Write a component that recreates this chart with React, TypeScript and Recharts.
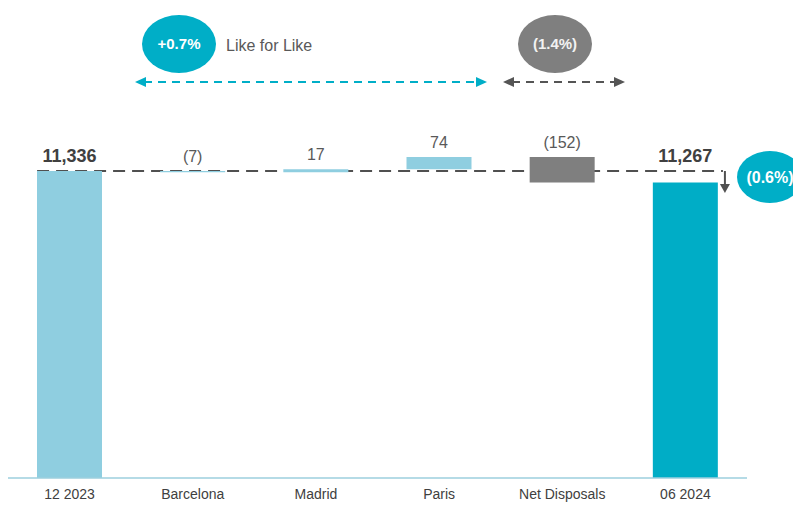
import React from 'react';
import { BarChart, Bar, XAxis, YAxis, Cell, LabelList, Customized } from 'recharts';

// waterfall inputs
const categories = ['12 2023', 'Barcelona', 'Madrid', 'Paris', 'Net Disposals', '06 2024'];
const openingValue = 11336;
const movements = [-7, 17, 74, -152];
const closingValue = 11267;
const valueLabels = ['11,336', '(7)', '17', '74', '(152)', '11,267'];
const barColors = ['#8FCEE0', '#8FCEE0', '#8FCEE0', '#8FCEE0', '#7F7F7F', '#00ADC6'];
const yDomain = [9500, 12000];

const CHART_W = 793;
const CHART_H = 497;
const MARGIN = { top: 52, right: 54, bottom: 7, left: 0 };
const PLOT_W = CHART_W - MARGIN.left - MARGIN.right;
const PLOT_H = CHART_H - MARGIN.top - MARGIN.bottom - 20;
const BAR_SIZE = 65;
const FONT = "'Liberation Sans', Arial, sans-serif";

// build floating ranges for the bars
const buildRows = () => {
  const rows = [{ name: categories[0], range: [yDomain[0], openingValue], label: valueLabels[0] }];
  let running = openingValue;
  movements.forEach((m, i) => {
    const next = running + m;
    rows.push({ name: categories[i + 1], range: [Math.min(running, next), Math.max(running, next)], label: valueLabels[i + 1] });
    running = next;
  });
  rows.push({ name: categories[5], range: [yDomain[0], closingValue], label: valueLabels[5] });
  return rows;
};
const rows = buildRows();

// same linear mapping the chart uses, for the overlay drawings
const yPix = (v: number) => MARGIN.top + ((yDomain[1] - v) / (yDomain[1] - yDomain[0])) * PLOT_H;
const band = PLOT_W / categories.length;
const xCenter = (i: number) => MARGIN.left + band * (i + 0.5);
const lineY = yPix(openingValue);

const ValueLabel = (props: any) => {
  const { x, y, width, height, index } = props;
  const top = Math.min(y, y + height);
  const bold = index === 0 || index === categories.length - 1;
  return (
    <text
      x={x + width / 2}
      y={Math.min(top, lineY) - 9}
      textAnchor="middle"
      fontFamily={FONT}
      fontSize={bold ? 18 : 16}
      fontWeight={bold ? 700 : 400}
      fill={bold ? '#404040' : '#595959'}
    >
      {rows[index].label}
    </text>
  );
};

const DashArrow = ({ x1, x2, y, color }: { x1: number; x2: number; y: number; color: string }) => (
  <g>
    <line x1={x1 + 9} x2={x2 - 9} y1={y} y2={y} stroke={color} strokeWidth={2} strokeDasharray="8 6" />
    <polygon points={`${x1},${y} ${x1 + 11},${y - 5} ${x1 + 11},${y + 5}`} fill={color} />
    <polygon points={`${x2},${y} ${x2 - 11},${y - 5} ${x2 - 11},${y + 5}`} fill={color} />
  </g>
);

const Annotations = () => {
  const left = xCenter(0) - BAR_SIZE / 2;
  const right = xCenter(categories.length - 1) + BAR_SIZE / 2 + 5;
  const arrowX = right + 2;
  return (
    <g fontFamily={FONT}>
      <line x1={left} x2={right} y1={lineY} y2={lineY} stroke="#505050" strokeWidth={2} strokeDasharray="12 7" />
      <line x1={arrowX} x2={arrowX} y1={lineY} y2={lineY + 15} stroke="#505050" strokeWidth={2} />
      <polygon points={`${arrowX - 5},${lineY + 13} ${arrowX + 5},${lineY + 13} ${arrowX},${lineY + 22}`} fill="#505050" />

      <ellipse cx={171} cy={36} rx={37} ry={29} fill="#00AEC7" />
      <text x={171} y={41} textAnchor="middle" fontSize={15} fontWeight={700} fill="#ffffff">+0.7%</text>
      <text x={218} y={43} fontSize={16} fill="#595959">Like for Like</text>
      <DashArrow x1={127} x2={479} y={74} color="#00AEC7" />

      <ellipse cx={547} cy={36} rx={37} ry={29} fill="#7F7F7F" />
      <text x={547} y={41} textAnchor="middle" fontSize={15} fontWeight={700} fill="#F2F2F2">(1.4%)</text>
      <DashArrow x1={495} x2={617} y={74} color="#555555" />

      <ellipse cx={762} cy={169} rx={33} ry={26} fill="#00AEC7" />
      <text x={762} y={175} textAnchor="middle" fontSize={16} fontWeight={700} fill="#ffffff">(0.6%)</text>
    </g>
  );
};

export default function App() {
  return (
    <div style={{ width: CHART_W, height: CHART_H }}>
      <BarChart width={CHART_W} height={CHART_H} data={rows} margin={MARGIN}>
        <XAxis
          dataKey="name"
          height={20}
          tickLine={false}
          tickMargin={5}
          axisLine={{ stroke: '#9CCFDE', strokeWidth: 1.5 }}
          tick={{ fontSize: 14, fill: '#404040', fontFamily: FONT }}
          interval={0}
        />
        <YAxis hide domain={yDomain} allowDataOverflow type="number" />
        <Bar dataKey="range" barSize={BAR_SIZE} isAnimationActive={false}>
          {rows.map((r, i) => (
            <Cell key={r.name} fill={barColors[i]} />
          ))}
          <LabelList dataKey="label" content={<ValueLabel />} />
        </Bar>
        <Customized component={<Annotations />} />
      </BarChart>
    </div>
  );
}
